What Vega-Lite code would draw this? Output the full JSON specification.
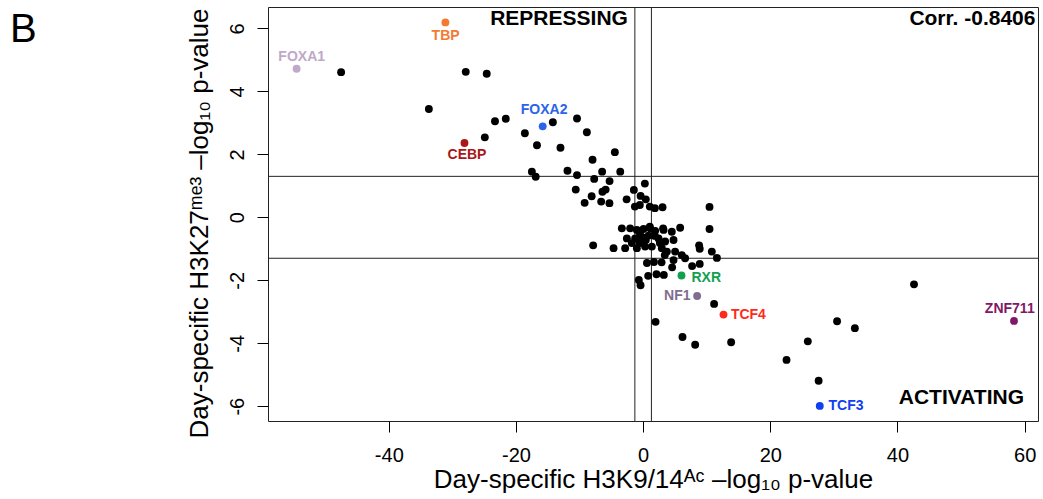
{
  "$schema": "https://vega.github.io/schema/vega-lite/v6.json",
  "width": 770,
  "height": 414,
  "autosize": {"type": "none"},
  "padding": {"left": 268, "top": 7, "right": 5, "bottom": 78},
  "background": "white",
  "title": {"text": "B", "anchor": "start", "frame": "group", "fontSize": 40, "font": "Liberation Sans", "fontWeight": "normal", "color": "black", "dx": -258, "dy": 38, "baseline": "top", "offset": -5},
  "config": {
    "view": {"stroke": "#222222", "strokeWidth": 1},
    "font": "Liberation Sans",
    "axis": {"grid": false, "domain": false, "tickColor": "black", "tickSize": 11, "tickWidth": 1, "labelFont": "Liberation Sans", "labelFontSize": 20, "labelColor": "black", "titleFont": "Liberation Sans", "titleFontSize": 26, "titleFontWeight": "normal", "titleColor": "black", "labelExpr": "'' + datum.value"}
  },
  "datasets": {
    "pts": [
      {"x": -47.5, "y": 4.61, "name": "other"}, {"x": -27.9, "y": 4.62, "name": "other"}, {"x": -24.6, "y": 4.56, "name": "other"},
      {"x": -33.7, "y": 3.44, "name": "other"}, {"x": -23.3, "y": 3.05, "name": "other"}, {"x": -21.6, "y": 3.13, "name": "other"},
      {"x": -24.9, "y": 2.54, "name": "other"}, {"x": -18.6, "y": 2.67, "name": "other"}, {"x": -16.7, "y": 2.29, "name": "other"},
      {"x": -14.2, "y": 3.02, "name": "other"}, {"x": -10.4, "y": 3.14, "name": "other"}, {"x": -8.85, "y": 2.7, "name": "other"},
      {"x": -13.0, "y": 2.21, "name": "other"}, {"x": -7.96, "y": 1.83, "name": "other"}, {"x": -4.45, "y": 2.07, "name": "other"},
      {"x": -17.5, "y": 1.45, "name": "other"}, {"x": -16.9, "y": 1.29, "name": "other"}, {"x": -11.9, "y": 1.48, "name": "other"},
      {"x": -10.4, "y": 1.34, "name": "other"}, {"x": -7.7, "y": 1.22, "name": "other"}, {"x": -6.45, "y": 1.45, "name": "other"},
      {"x": -5.28, "y": 1.15, "name": "other"}, {"x": -3.6, "y": 1.45, "name": "other"}, {"x": -10.6, "y": 0.88, "name": "other"},
      {"x": -8.1, "y": 0.67, "name": "other"}, {"x": -6.4, "y": 0.81, "name": "other"}, {"x": -5.9, "y": 0.88, "name": "other"},
      {"x": -9.2, "y": 0.46, "name": "other"}, {"x": -6.6, "y": 0.5, "name": "other"}, {"x": -5.3, "y": 0.45, "name": "other"},
      {"x": 0.27, "y": 1.07, "name": "other"}, {"x": -1.46, "y": 0.87, "name": "other"}, {"x": -2.6, "y": 0.57, "name": "other"},
      {"x": -0.4, "y": 0.68, "name": "other"}, {"x": 0.42, "y": 0.57, "name": "other"}, {"x": -1.3, "y": 0.34, "name": "other"},
      {"x": -0.52, "y": 0.39, "name": "other"}, {"x": 1.05, "y": 0.34, "name": "other"}, {"x": 1.84, "y": 0.29, "name": "other"},
      {"x": 3.05, "y": 0.32, "name": "other"}, {"x": 10.44, "y": 0.33, "name": "other"},
      {"x": -3.35, "y": -0.35, "name": "other"}, {"x": -2.04, "y": -0.35, "name": "other"}, {"x": -0.99, "y": -0.4, "name": "other"},
      {"x": 0.06, "y": -0.37, "name": "other"}, {"x": 1.1, "y": -0.35, "name": "other"}, {"x": 1.89, "y": -0.43, "name": "other"},
      {"x": 3.21, "y": -0.4, "name": "other"}, {"x": 4.51, "y": -0.46, "name": "other"}, {"x": 5.82, "y": -0.33, "name": "other"},
      {"x": -2.56, "y": -0.67, "name": "other"}, {"x": -1.26, "y": -0.67, "name": "other"}, {"x": -0.2, "y": -0.62, "name": "other"},
      {"x": 0.85, "y": -0.58, "name": "other"}, {"x": 2.42, "y": -0.67, "name": "other"}, {"x": 3.46, "y": -0.77, "name": "other"},
      {"x": 4.78, "y": -0.72, "name": "other"}, {"x": -2.83, "y": -0.98, "name": "other"}, {"x": -4.65, "y": -0.98, "name": "other"},
      {"x": -0.99, "y": -0.98, "name": "other"}, {"x": 0.31, "y": -0.93, "name": "other"}, {"x": 1.37, "y": -0.93, "name": "other"},
      {"x": 2.94, "y": -0.98, "name": "other"}, {"x": 3.73, "y": -1.09, "name": "other"}, {"x": 5.03, "y": -1.09, "name": "other"},
      {"x": 6.08, "y": -1.2, "name": "other"}, {"x": 0.6, "y": -1.45, "name": "other"}, {"x": 1.7, "y": -1.42, "name": "other"},
      {"x": 2.9, "y": -1.43, "name": "other"}, {"x": 6.6, "y": -1.3, "name": "other"}, {"x": 4.78, "y": -1.36, "name": "other"},
      {"x": -0.52, "y": -0.5, "name": "other"}, {"x": 0.42, "y": -0.72, "name": "other"}, {"x": -1.78, "y": -0.82, "name": "other"},
      {"x": 1.84, "y": -0.59, "name": "other"}, {"x": 2.63, "y": -0.82, "name": "other"}, {"x": -0.52, "y": -0.82, "name": "other"},
      {"x": 1.05, "y": -0.3, "name": "other"}, {"x": 3.14, "y": -0.35, "name": "other"},
      {"x": 10.44, "y": -0.37, "name": "other"}, {"x": -7.86, "y": -0.89, "name": "other"}, {"x": 8.8, "y": -0.89, "name": "other"},
      {"x": 8.9, "y": -1.0, "name": "other"}, {"x": 10.8, "y": -1.09, "name": "other"}, {"x": 11.6, "y": -1.29, "name": "other"},
      {"x": 7.7, "y": -1.55, "name": "other"}, {"x": 8.9, "y": -1.48, "name": "other"}, {"x": 4.56, "y": -1.59, "name": "other"},
      {"x": 3.4, "y": -1.2, "name": "other"}, {"x": 0.79, "y": -1.86, "name": "other"}, {"x": 2.1, "y": -1.81, "name": "other"},
      {"x": 3.25, "y": -1.83, "name": "other"}, {"x": -0.68, "y": -1.99, "name": "other"}, {"x": -0.41, "y": -2.16, "name": "other"},
      {"x": 11.16, "y": -2.75, "name": "other"}, {"x": 1.95, "y": -3.32, "name": "other"}, {"x": 6.19, "y": -3.8, "name": "other"},
      {"x": 8.18, "y": -4.05, "name": "other"}, {"x": 13.84, "y": -3.97, "name": "other"}, {"x": 25.9, "y": -3.94, "name": "other"},
      {"x": 42.6, "y": -2.13, "name": "other"}, {"x": 30.5, "y": -3.3, "name": "other"}, {"x": 33.3, "y": -3.52, "name": "other"},
      {"x": 22.55, "y": -4.53, "name": "other"}, {"x": 27.6, "y": -5.19, "name": "other"},
      {"x": -54.5, "y": 4.72, "name": "FOXA1", "lx": -53.7, "ly": 5.08},
      {"x": -31.1, "y": 6.19, "name": "TBP", "lx": -31.07, "ly": 5.76},
      {"x": -28.1, "y": 2.36, "name": "CEBP", "lx": -27.7, "ly": 1.99},
      {"x": -15.8, "y": 2.89, "name": "FOXA2", "lx": -15.57, "ly": 3.41},
      {"x": 6.03, "y": -1.85, "name": "RXR", "lx": 7.6, "ly": -1.92},
      {"x": 8.49, "y": -2.5, "name": "NF1", "lx": 7.45, "ly": -2.5},
      {"x": 12.64, "y": -3.09, "name": "TCF4", "lx": 13.8, "ly": -3.09},
      {"x": 27.78, "y": -5.99, "name": "TCF3", "lx": 29.15, "ly": -5.99},
      {"x": 58.33, "y": -3.29, "name": "ZNF711", "lx": 57.66, "ly": -2.9}
    ],
    "notes": [
      {"label": "REPRESSING", "x": -2.4, "y": 6.31},
      {"label": "Corr. -0.8406", "x": 61.7, "y": 6.31},
      {"label": "ACTIVATING", "x": 59.9, "y": -5.75}
    ],
    "vlines": [{"v": -1.301}, {"v": 1.301}]
  },
  "layer": [
    {
      "data": {"name": "vlines"},
      "mark": {"type": "rule", "color": "#222222", "strokeWidth": 1},
      "encoding": {"x": {"field": "v", "type": "quantitative"}}
    },
    {
      "data": {"name": "vlines"},
      "mark": {"type": "rule", "color": "#222222", "strokeWidth": 1},
      "encoding": {"y": {"field": "v", "type": "quantitative"}}
    },
    {
      "data": {"name": "pts"},
      "mark": {"type": "circle", "size": 62, "opacity": 1},
      "encoding": {
        "x": {"field": "x", "type": "quantitative", "scale": {"domain": [-59, 62.1], "nice": false, "zero": false},
              "axis": {"values": [-40, -20, 0, 20, 40, 60], "labelPadding": 13, "title": "Day-specific H3K9/14ᴬᶜ –log₁₀ p-value", "titleBaseline": "alphabetic", "titleY": 66}},
        "y": {"field": "y", "type": "quantitative", "scale": {"domain": [-6.47, 6.68], "nice": false, "zero": false},
              "axis": {"values": [-6, -4, -2, 0, 2, 4, 6], "labelAngle": 270, "labelAlign": "center", "labelBaseline": "bottom", "labelPadding": 10, "title": "Day-specific H3K27ᵐᵉ³ –log₁₀ p-value", "titleBaseline": "alphabetic", "titleX": -61, "titleY": 216}},
        "color": {"field": "name", "type": "nominal", "legend": null,
                  "scale": {"domain": ["other", "FOXA1", "TBP", "CEBP", "FOXA2", "RXR", "NF1", "TCF4", "TCF3", "ZNF711"],
                            "range": ["#000000", "#C0A8C8", "#F47A30", "#A81818", "#2A64E8", "#12A050", "#806C90", "#FF2A1A", "#1040F0", "#801868"]}}
      }
    },
    {
      "data": {"name": "pts"},
      "transform": [{"filter": {"field": "name", "oneOf": ["FOXA1", "TBP", "CEBP", "FOXA2", "ZNF711"]}}],
      "mark": {"type": "text", "align": "center", "baseline": "middle", "fontWeight": "bold", "fontSize": 14, "font": "Liberation Sans"},
      "encoding": {
        "x": {"field": "lx", "type": "quantitative"},
        "y": {"field": "ly", "type": "quantitative"},
        "text": {"field": "name"},
        "color": {"field": "name", "type": "nominal", "legend": null}
      }
    },
    {
      "data": {"name": "pts"},
      "transform": [{"filter": {"field": "name", "oneOf": ["RXR", "TCF4", "TCF3"]}}],
      "mark": {"type": "text", "align": "left", "baseline": "middle", "fontWeight": "bold", "fontSize": 14, "font": "Liberation Sans"},
      "encoding": {
        "x": {"field": "lx", "type": "quantitative"},
        "y": {"field": "ly", "type": "quantitative"},
        "text": {"field": "name"},
        "color": {"field": "name", "type": "nominal", "legend": null}
      }
    },
    {
      "data": {"name": "pts"},
      "transform": [{"filter": {"field": "name", "oneOf": ["NF1"]}}],
      "mark": {"type": "text", "align": "right", "baseline": "middle", "fontWeight": "bold", "fontSize": 14, "font": "Liberation Sans"},
      "encoding": {
        "x": {"field": "lx", "type": "quantitative"},
        "y": {"field": "ly", "type": "quantitative"},
        "text": {"field": "name"},
        "color": {"field": "name", "type": "nominal", "legend": null}
      }
    },
    {
      "data": {"name": "notes"},
      "mark": {"type": "text", "align": "right", "baseline": "middle", "fontWeight": "bold", "fontSize": 21, "font": "Liberation Sans", "color": "black"},
      "encoding": {
        "x": {"field": "x", "type": "quantitative"},
        "y": {"field": "y", "type": "quantitative"},
        "text": {"field": "label"}
      }
    }
  ]
}
